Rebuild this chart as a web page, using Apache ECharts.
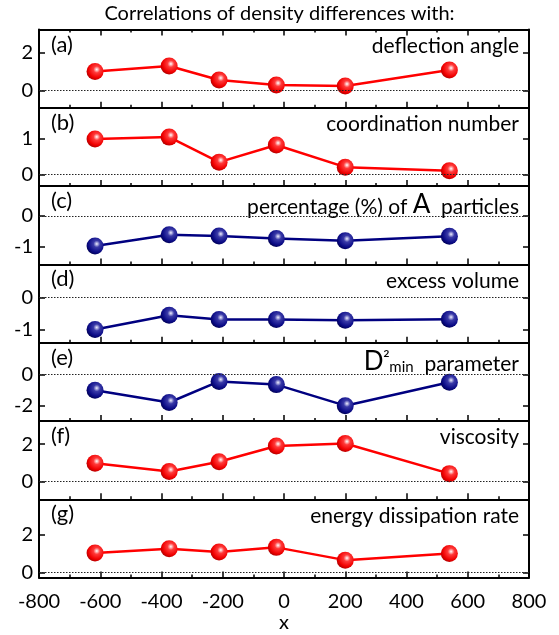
<!DOCTYPE html>
<html><head><meta charset="utf-8">
<script src="https://cdn.jsdelivr.net/npm/echarts@6/dist/echarts.min.js"></script>
<style>html,body{margin:0;padding:0;background:#fff}#c{width:559px;height:635px}</style>
</head><body><div id="c"></div>
<script>
const xValues = [-617, -375, -212, -25, 200, 540];
const panelLetters = ['(a)', '(b)', '(c)', '(d)', '(e)', '(f)', '(g)'];
const panelTitles = ['deflection angle', 'coordination number', 'percentage (%) of A  particles', 'excess volume', 'D2min parameter', 'viscosity', 'energy dissipation rate'];
const seriesA = [1.0, 1.3, 0.55, 0.28, 0.23, 1.08];
const seriesB = [1.0, 1.05, 0.35, 0.83, 0.21, 0.11];
const seriesC = [-0.99, -0.62, -0.66, -0.74, -0.82, -0.67];
const seriesD = [-1.0, -0.56, -0.69, -0.69, -0.71, -0.68];
const seriesE = [-1.0, -1.78, -0.45, -0.65, -1.98, -0.5];
const seriesF = [0.98, 0.53, 1.06, 1.91, 2.04, 0.42];
const seriesG = [1.03, 1.26, 1.08, 1.33, 0.65, 1.0];
const yTicks = [[0, 2], [0, 1], [-1, 0], [-1, 0], [-2, 0], [0, 2], [0, 2]];
const yRanges = [[-0.93, 3.24], [-0.32, 1.87], [-1.6, 0.99], [-1.41, 1.02], [-2.95, 2.0], [-0.96, 3.25], [-0.28, 3.89]];
const xTicks = [-800, -600, -400, -200, 0, 200, 400, 600, 800];

const allSeries = [seriesA, seriesB, seriesC, seriesD, seriesE, seriesF, seriesG];
const isBlue = [false, false, true, true, true, false, false];

const FONT = 'Lato';
const L = 39, R = 30, TOP = 29.5, H = 78.3;
const chart = echarts.init(document.getElementById('c'));

function ballColor(blue) {
  return blue
    ? new echarts.graphic.RadialGradient(0.6, 0.38, 0.65, [
        {offset: 0, color: '#f0f0ff'}, {offset: 0.3, color: '#3a3aa8'},
        {offset: 0.75, color: '#0b0b86'}, {offset: 1, color: '#000055'}])
    : new echarts.graphic.RadialGradient(0.6, 0.38, 0.65, [
        {offset: 0, color: '#ffffff'}, {offset: 0.3, color: '#ff3a3a'},
        {offset: 0.75, color: '#f00000'}, {offset: 1, color: '#b00000'}]);
}

const grids = [], xAxes = [], yAxes = [], series = [], graphics = [];
const tickStyle = {color: '#000', width: 1.5};
for (let i = 0; i < 7; i++) {
  const top = TOP + i * H;
  grids.push({left: L, right: R, top: top, height: H, containLabel: false});
  const last = i === 6;
  xAxes.push({
    type: 'value', gridIndex: i, position: 'bottom', min: -800, max: 800, interval: 200,
    axisLine: {show: true, onZero: false, lineStyle: {color: '#000', width: 2}},
    axisTick: {show: true, inside: true, length: 6, lineStyle: tickStyle},
    minorTick: {show: true, splitNumber: 2, length: 3, lineStyle: tickStyle},
    axisLabel: {show: last, color: '#000', fontFamily: FONT, fontSize: 20, margin: 14,
      formatter: v => xTicks.includes(v) ? String(v) : ''},
    splitLine: {show: false},
    name: last ? 'x' : '', nameLocation: 'middle', nameGap: 35,
    nameTextStyle: {color: '#000', fontFamily: FONT, fontSize: 20}
  });
  if (i === 0) {
    xAxes.push({
      type: 'value', gridIndex: 0, position: 'top', min: -800, max: 800, interval: 200,
      axisLine: {show: true, onZero: false, lineStyle: {color: '#000', width: 2}},
      axisTick: {show: true, inside: true, length: 6, lineStyle: tickStyle},
      minorTick: {show: true, splitNumber: 2, length: 3, lineStyle: tickStyle},
      axisLabel: {show: false}, splitLine: {show: false}
    });
  }
  const [ymin, ymax] = yRanges[i];
  const yBase = {
    type: 'value', gridIndex: i, min: ymin, max: ymax,
    axisLine: {show: true, onZero: false, lineStyle: {color: '#000', width: 2}},
    splitLine: {show: false}
  };
  yAxes.push(Object.assign({}, yBase, {
    position: 'left',
    axisTick: {show: true, inside: true, length: 6, lineStyle: tickStyle, customValues: yTicks[i]},
    axisLabel: {show: true, color: '#000', fontFamily: FONT, fontSize: 20, margin: 6, customValues: yTicks[i]}
  }));
  yAxes.push(Object.assign({}, yBase, {
    position: 'right',
    axisTick: {show: true, inside: true, length: 6, lineStyle: tickStyle, customValues: yTicks[i]},
    axisLabel: {show: false}
  }));
  const xIdx = i === 0 ? 0 : i + 1;
  series.push({
    type: 'line', xAxisIndex: xIdx, yAxisIndex: 2 * i,
    data: xValues.map((x, k) => [x, allSeries[i][k]]),
    symbol: 'circle', symbolSize: 17,
    lineStyle: {color: isBlue[i] ? '#000080' : '#ff0000', width: 2.5},
    itemStyle: {color: ballColor(isBlue[i]), borderWidth: 0},
    z: 3,
    markLine: {
      silent: true, symbol: 'none', label: {show: false}, animation: false,
      lineStyle: {color: '#222', type: [1.5, 1.5], width: 1},
      data: [{yAxis: 0}]
    },
    animation: false
  });
  graphics.push({
    type: 'text', left: 51, top: top + 4,
    style: {text: panelLetters[i], fontFamily: FONT, fontSize: 22, fill: '#000'}
  });
  let txt = panelTitles[i];
  if (i === 2) {
    txt = '{a|percentage (%) of }{b|A}{a|  particles}';
  } else if (i === 4) {
    txt = '{b|D}{sup|2}{sub|min}{a|  parameter}';
  }
  graphics.push({
    type: 'text', right: 40, top: top + 6,
    style: {
      text: txt, fontFamily: FONT, fontSize: 21, fill: '#000', align: 'right',
      rich: {
        a: {fontFamily: FONT, fontSize: 21, fill: '#000', verticalAlign: 'bottom', lineHeight: 26},
        b: {fontFamily: FONT, fontSize: 26, fill: '#000', verticalAlign: 'bottom', lineHeight: 26},
        sup: {fontFamily: FONT, fontSize: 10, fontWeight: 'bold', fill: '#000', verticalAlign: 'top', lineHeight: 26, padding: [0, 0, 12, 0]},
        sub: {fontFamily: FONT, fontSize: 15, fill: '#000', verticalAlign: 'bottom', lineHeight: 26}
      }
    }
  });
}
graphics.push({
  type: 'text', left: 'center', top: 4,
  style: {text: 'Correlations of density differences with:', fontFamily: FONT, fontSize: 20, fill: '#000'}
});

chart.setOption({
  animation: false,
  backgroundColor: '#fff',
  grid: grids, xAxis: xAxes, yAxis: yAxes, series: series, graphic: graphics
});
</script></body></html>
